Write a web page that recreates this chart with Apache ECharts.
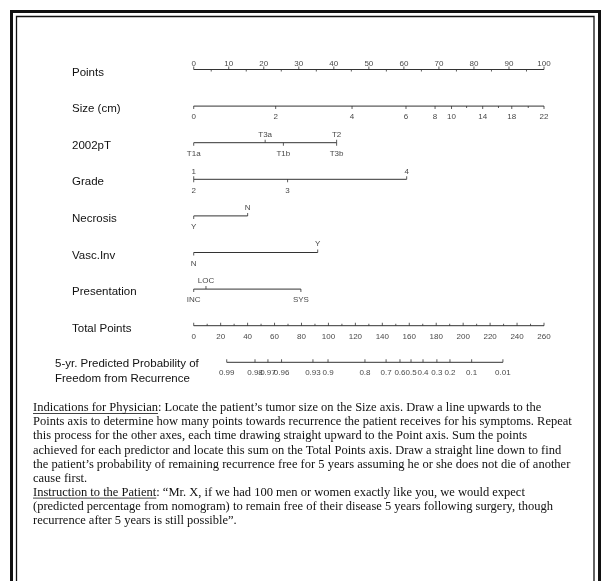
<!DOCTYPE html>
<html>
<head>
<meta charset="utf-8">
<script src="https://cdn.jsdelivr.net/npm/echarts@6/dist/echarts.min.js"></script>
<style>
html, body { margin: 0; padding: 0; background: #fff; }
#chart { width: 605px; height: 581px; }
</style>
</head>
<body>
<div id="chart"></div>
<script>
// row names of the nomogram (top to bottom)
var rows = ['Points', 'Size (cm)', '2002pT', 'Grade', 'Necrosis', 'Vasc.Inv', 'Presentation', 'Total Points',
	'5-yr. Predicted Probability of\nFreedom from Recurrence'];

// Points scale
var pointLabels = ['0', '10', '20', '30', '40', '50', '60', '70', '80', '90', '100'];
var pointTicks = [0, 10, 20, 30, 40, 50, 60, 70, 80, 90, 100];
var pointMinor = [5, 15, 25, 35, 45, 55, 65, 75, 85, 95];

// predictors: label and the points it is worth
var sizeLabels = ['0', '2', '4', '6', '8', '10', '14', '18', '22'];
var sizePoints = [0, 23.4, 45.2, 60.6, 68.9, 73.6, 82.5, 90.8, 100];
var sizeMinorPoints = [77.9, 87.0, 95.5]; // 12, 16, 20 cm

var pTTop = ['T3a', 'T2'];
var pTTopPoints = [20.4, 40.8];
var pTBottom = ['T1a', 'T1b', 'T3b'];
var pTBottomPoints = [0, 25.6, 40.8];

var gradeTop = ['1', '4'];
var gradeTopPoints = [0, 60.8];
var gradeBottom = ['2', '3'];
var gradeBottomPoints = [0, 26.8];

var necrosisTop = ['N'];
var necrosisTopPoints = [15.4];
var necrosisBottom = ['Y'];
var necrosisBottomPoints = [0];

var vascTop = ['Y'];
var vascTopPoints = [35.4];
var vascBottom = ['N'];
var vascBottomPoints = [0];

var presTop = ['LOC'];
var presTopPoints = [3.5];
var presBottom = ['INC', 'SYS'];
var presBottomPoints = [0, 30.6];

// Total points scale
var totalLabels = ['0', '20', '40', '60', '80', '100', '120', '140', '160', '180', '200', '220', '240', '260'];
var totalTicks = [0, 20, 40, 60, 80, 100, 120, 140, 160, 180, 200, 220, 240, 260];
var totalMinor = [10, 30, 50, 70, 90, 110, 130, 150, 170, 190, 210, 230, 250];

// 5-yr probability, placed at total points
var probLabels = ['0.99', '0.98', '0.97', '0.96', '0.93', '0.9', '0.8', '0.7', '0.6', '0.5', '0.4', '0.3', '0.2', '0.1', '0.01'];
var probTotals = [24.5, 45.5, 55.1, 65.2, 88.5, 99.7, 127.1, 142.8, 153.1, 161.3, 170.2, 180.5, 190.2, 206.3, 229.5];

var textLines = [
	'Indications for Physician: Locate the patient\u2019s tumor size on the Size axis. Draw a line upwards to the',
	'Points axis to determine how many points towards recurrence the patient receives for his symptoms. Repeat',
	'this process for the other axes, each time drawing straight upward to the Point axis. Sum the points',
	'achieved for each predictor and locate this sum on the Total Points axis. Draw a straight line down to find',
	'the patient\u2019s probability of remaining recurrence free for 5 years assuming he or she does not die of another',
	'cause first.',
	'Instruction to the Patient: \u201cMr. X, if we had 100 men or women exactly like you, we would expect',
	'(predicted percentage from nomogram) to remain free of their disease 5 years following surgery, though',
	'recurrence after 5 years is still possible\u201d.'
];
var underlined = ['Indications for Physician', 'Instruction to the Patient'];

var myChart = echarts.init(document.getElementById('chart'));

var LINE = '#333';
var TXT = '#111';
var SANS = '"Liberation Sans", Arial, sans-serif';
var SERIF = '"Liberation Serif", "Times New Roman", serif';

function toData(xs, row, names) {
	return xs.map(function(x, i) {
		return { value: [x, row], name: names ? names[i] : '' };
	});
}

function axisLine(axis, row, xs) {
	return {
		type: 'line', xAxisIndex: axis, symbol: 'none', silent: true,
		lineStyle: { color: LINE, width: 1 },
		data: [[Math.min.apply(null, xs), row], [Math.max.apply(null, xs), row]]
	};
}

function ticks(axis, row, xs, len, up) {
	return {
		type: 'scatter', xAxisIndex: axis, symbol: 'rect', silent: true,
		symbolSize: [1, len], symbolOffset: [0, up ? -len / 2 : len / 2],
		itemStyle: { color: LINE },
		data: toData(xs, row)
	};
}

function labels(axis, row, xs, names, dy) {
	return {
		type: 'scatter', xAxisIndex: axis, symbolSize: 0, silent: true,
		itemStyle: { color: 'transparent' },
		label: {
			show: true, position: 'inside', offset: [0, dy], formatter: '{b}',
			fontSize: 8, fontFamily: SANS, color: TXT
		},
		data: toData(xs, row, names)
	};
}

var UP = -7.5, DOWN = 11;

var series = [
	// Points
	axisLine(0, 0, pointTicks),
	ticks(0, 0, pointTicks, 3, true),
	ticks(0, 0, pointMinor, 2, false),
	labels(0, 0, pointTicks, pointLabels, -5.5),
	// Size
	axisLine(0, 1, sizePoints),
	ticks(0, 1, sizePoints, 3, false),
	ticks(0, 1, sizeMinorPoints, 2, false),
	labels(0, 1, sizePoints, sizeLabels, DOWN),
	// 2002pT
	axisLine(0, 2, pTTopPoints.concat(pTBottomPoints)),
	ticks(0, 2, pTTopPoints, 3, true),
	ticks(0, 2, pTBottomPoints, 3, false),
	labels(0, 2, pTTopPoints, pTTop, UP),
	labels(0, 2, pTBottomPoints, pTBottom, DOWN),
	// Grade
	axisLine(0, 3, gradeTopPoints.concat(gradeBottomPoints)),
	ticks(0, 3, gradeTopPoints, 3, true),
	ticks(0, 3, gradeBottomPoints, 3, false),
	labels(0, 3, gradeTopPoints, gradeTop, UP),
	labels(0, 3, gradeBottomPoints, gradeBottom, DOWN),
	// Necrosis
	axisLine(0, 4, necrosisTopPoints.concat(necrosisBottomPoints)),
	ticks(0, 4, necrosisTopPoints, 3, true),
	ticks(0, 4, necrosisBottomPoints, 3, false),
	labels(0, 4, necrosisTopPoints, necrosisTop, UP - 1),
	labels(0, 4, necrosisBottomPoints, necrosisBottom, DOWN),
	// Vasc.Inv
	axisLine(0, 5, vascTopPoints.concat(vascBottomPoints)),
	ticks(0, 5, vascTopPoints, 3, true),
	ticks(0, 5, vascBottomPoints, 3, false),
	labels(0, 5, vascTopPoints, vascTop, UP - 1),
	labels(0, 5, vascBottomPoints, vascBottom, DOWN),
	// Presentation
	axisLine(0, 6, presTopPoints.concat(presBottomPoints)),
	ticks(0, 6, presTopPoints, 3, true),
	ticks(0, 6, presBottomPoints, 3, false),
	labels(0, 6, presTopPoints, presTop, UP - 0.5),
	labels(0, 6, presBottomPoints, presBottom, DOWN),
	// Total Points
	axisLine(1, 7, totalTicks),
	ticks(1, 7, totalTicks, 3, true),
	ticks(1, 7, totalMinor, 2, true),
	labels(1, 7, totalTicks, totalLabels, DOWN),
	// probability
	axisLine(1, 8, probTotals),
	ticks(1, 8, probTotals, 3, true),
	labels(1, 8, probTotals, probLabels, 10.5)
];

// paragraph and frame
var canvas = document.createElement('canvas');
var ctx = canvas.getContext('2d');
var textFont = '12.5px ' + SERIF;
ctx.font = textFont;

var graphics = [
	{ type: 'rect', silent: true, shape: { x: 11.5, y: 11.5, width: 588, height: 700 },
		style: { fill: 'none', stroke: '#111', lineWidth: 3 } },
	{ type: 'rect', silent: true, shape: { x: 16.5, y: 16.5, width: 577.5, height: 700 },
		style: { fill: 'none', stroke: '#111', lineWidth: 1.3 } }
];

var textX = 33, textY = 408, lineGap = 14.1;
textLines.forEach(function(t, i) {
	var y = textY + i * lineGap;
	graphics.push({
		type: 'text', silent: true, x: textX, y: y,
		style: { text: t, font: textFont, fill: TXT, verticalAlign: 'middle' }
	});
	underlined.forEach(function(u) {
		if (t.indexOf(u) === 0) {
			var w = ctx.measureText(u).width;
			graphics.push({
				type: 'line', silent: true,
				shape: { x1: textX, y1: y + 5.5, x2: textX + w, y2: y + 5.5 },
				style: { stroke: TXT, lineWidth: 0.8 }
			});
		}
	});
});

var option = {
	backgroundColor: '#fff',
	animation: false,
	grid: { left: 193.7, right: 61, top: 51.2, height: 329.4 },
	xAxis: [
		{ type: 'value', min: 0, max: 100, show: false },
		{ type: 'value', min: 0, max: 260, show: false }
	],
	yAxis: {
		type: 'category', inverse: true, data: rows,
		axisLine: { show: false }, axisTick: { show: false }, splitLine: { show: false },
		axisLabel: {
			interval: 0, align: 'left', margin: 138.7,
			formatter: function(v) {
				if (v.indexOf('\n') > 0) {
					var p = v.split('\n');
					// blank leading line pushes the two-line label below its axis
					return '{e| }\n{p|' + p[0] + '}\n{p|' + p[1] + '}';
				}
				return '{n|' + v + '}';
			},
			rich: {
				n: { fontSize: 11.5, fontFamily: SANS, color: TXT, lineHeight: 14, padding: [6, 0, 0, 17] },
				e: { fontSize: 4, lineHeight: 19 },
				p: { fontSize: 11.5, fontFamily: SANS, color: TXT, lineHeight: 15 }
			}
		}
	},
	series: series,
	graphic: graphics
};

myChart.setOption(option);
</script>
</body>
</html>
